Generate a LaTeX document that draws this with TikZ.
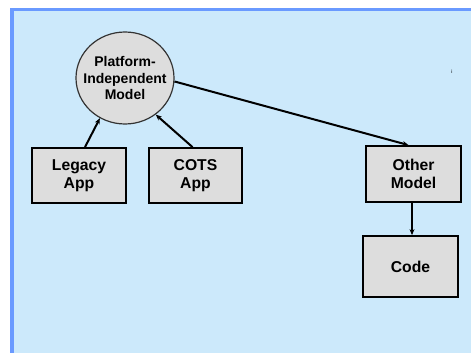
\documentclass[tikz,border=0pt]{standalone}
\usepackage{fontspec}
\setmainfont{Liberation Sans}
\usetikzlibrary{shapes.geometric,arrows.meta,calc}
\definecolor{panel}{HTML}{CCE9FB}
\definecolor{frameblue}{HTML}{6A9AFF}
\definecolor{boxgray}{HTML}{DDDDDD}
\tikzset{
  stagebox/.style={draw=black, line width=1.8pt, fill=boxgray, inner sep=0pt,
    align=center, font=\bfseries\fontsize{15.7}{18.3}\selectfont},
  modelcircle/.style={ellipse, draw=black!80, line width=1.2pt, fill=boxgray,
    inner sep=0pt, minimum width=98pt, minimum height=92pt},
  circletext/.style={inner sep=0pt, align=center,
    font=\bfseries\fontsize{14}{16.5}\selectfont},
  flow/.style={line width=2pt, -{Stealth[length=6pt,width=5pt]}}
}
\begin{document}
\begin{tikzpicture}[x=1pt,y=-1pt]
\useasboundingbox (0,0) rectangle (471,353);
% slide panel with its blue frame on the top and left
\fill[panel] (12,9.5) rectangle (471,353);
\draw[frameblue, line width=3.5pt] (12,353) -- (12,9.5) -- (471,9.5);

\node[modelcircle] (pim) at (125,78) {};
\node[circletext] (pimlabel) at (pim.center) {Platform-\\Independent\\Model};
\node[stagebox, minimum width=94pt, minimum height=55pt] (legacy) at (79,175.5) {Legacy\\App};
\node[stagebox, minimum width=93pt, minimum height=55pt] (cots) at (195.5,175.5) {COTS\\App};
\node[stagebox, minimum width=95pt, minimum height=56pt] (other) at (413.5,174) {Other\\Model};
\node[stagebox, minimum width=95pt, minimum height=61pt] (code) at (410.5,266.5) {Code};
\node[inner sep=0pt, font=\fontsize{5}{5}\selectfont] (mark) at (452,72) {i};

\draw[flow] ($(legacy.north)+(6,0)$) -- (pim.238);
\draw[flow] ($(cots.north)+(-3,0)$) -- (pim.310);
\draw[flow] (pim.356) -- ($(other.north)+(-5,0)$);
\draw[flow] ($(other.south)+(-1.5,0)$) -- ($(other.south |- code.north)+(-1.5,0)$);
\end{tikzpicture}
\end{document}
